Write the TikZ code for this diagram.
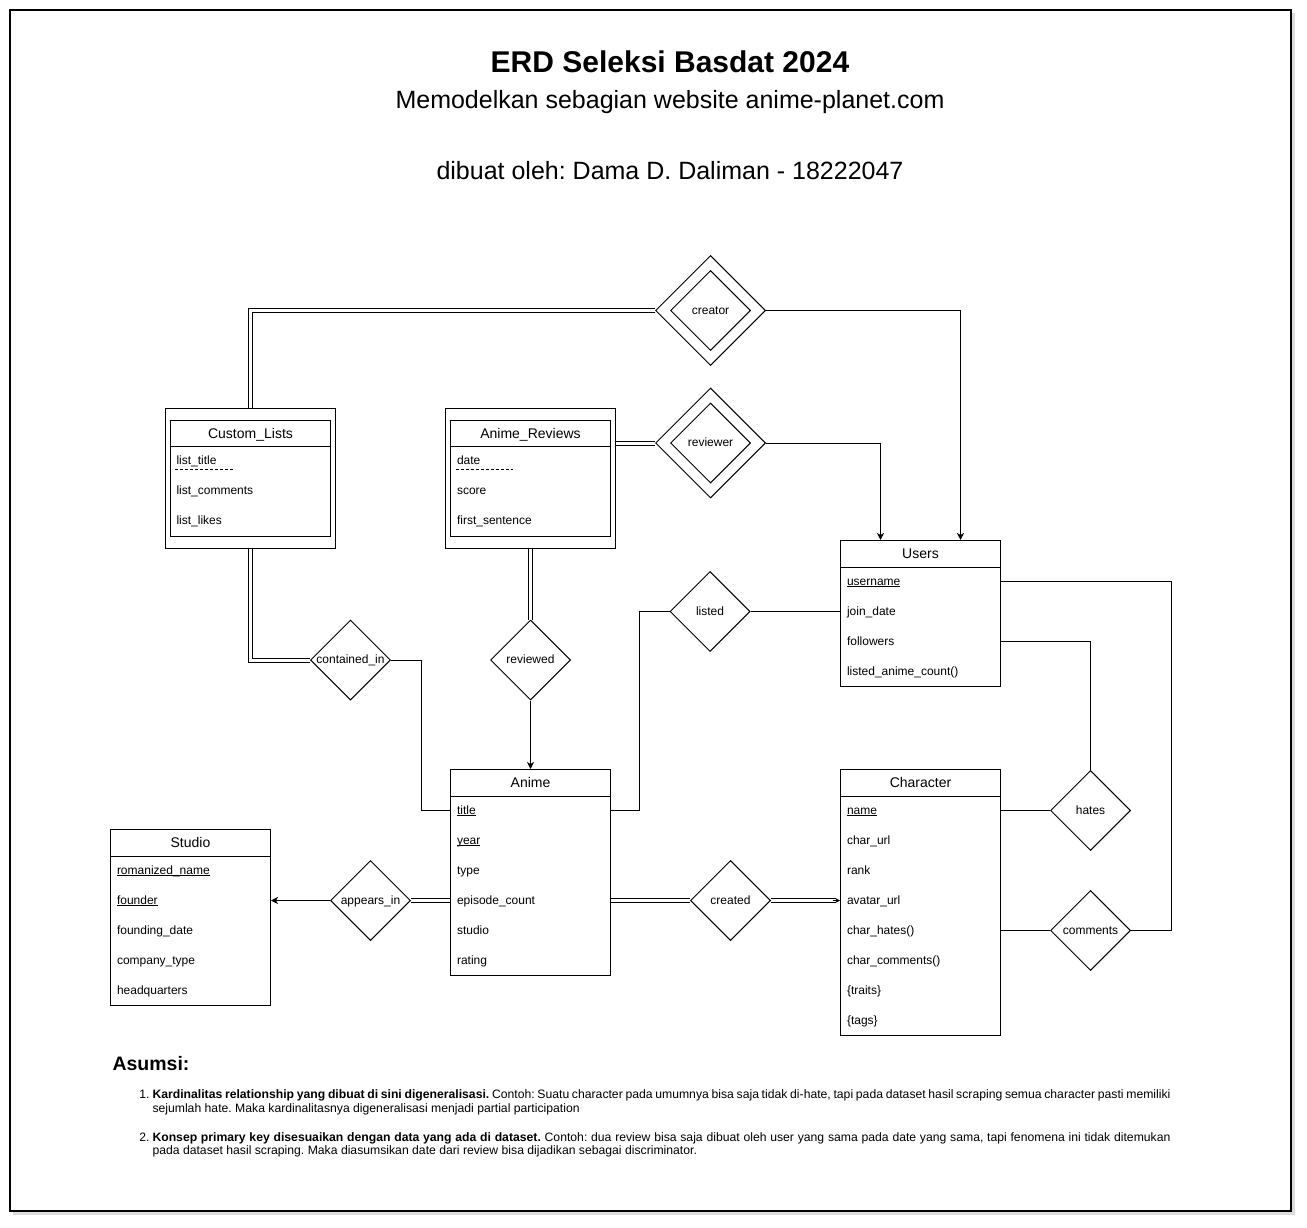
\documentclass[tikz,border=0pt]{standalone}
\usepackage{fontspec}
\setmainfont{Liberation Sans}
\usetikzlibrary{arrows.meta,shapes.geometric,calc}
\frenchspacing
\newcommand{\pkey}[1]{\setbox0=\hbox{#1}\leavevmode\rlap{\rule[-2pt]{\wd0}{0.7pt}}\box0}
\begin{document}
\begin{tikzpicture}[x=1pt,y=-1pt,line width=1pt,
  ehead/.style={minimum width=160pt, minimum height=26pt, inner sep=0pt, text height=10pt, text depth=0pt, font=\fontsize{14}{16}\selectfont},
  ebody/.style={draw, minimum width=160pt, inner sep=0pt, anchor=north},
  weak/.style={draw, minimum width=170pt, minimum height=140pt, inner sep=0pt},
  attr/.style={anchor=west, inner sep=0pt, text height=8.5pt, text depth=1.5pt, font=\fontsize{12}{14}\selectfont},
  rel/.style={diamond, draw, aspect=1, minimum width=80pt, minimum height=80pt, inner sep=0pt, text height=8.5pt, text depth=1.5pt, font=\fontsize{12}{14}\selectfont},
  relo/.style={diamond, draw, aspect=1, minimum width=110pt, minimum height=110pt, inner sep=0pt},
  dbl/.style={double, double distance=3pt},
  arr/.style={-{Stealth[length=7pt,width=7pt,inset=2pt]}},
  pkdash/.style={dash pattern=on 3pt off 2pt, line width=0.8pt},
]
\useasboundingbox (0,0) rectangle (1307,1228);
% frame with shadow
\fill[black!20, opacity=0.7] (13,13) rectangle (1294.5,1214.5);
\draw[fill=white, line width=1.2pt] (10,10) rectangle (1291,1211);

% titles
\node[anchor=base, inner sep=0pt, font=\fontsize{30}{36}\selectfont\bfseries] (title) at (670,72.5) {ERD Seleksi Basdat 2024};
\node[anchor=base, inner sep=0pt, font=\fontsize{25}{30}\selectfont] (subtitle) at (670,108.5) {Memodelkan sebagian website anime-planet.com};
\node[anchor=base, inner sep=0pt, font=\fontsize{25}{30}\selectfont] (author) at (670,179.5) {dibuat oleh: Dama D. Daliman - 18222047};

% Custom_Lists (weak)
\node[weak] (cl-o) at (250,478) {};
\node[ehead] (cl-h) at (250.5,433) {Custom\_Lists};
\node[ebody, minimum height=116pt] (cl-b) at (cl-h.north) {};
\draw (cl-h.south west) -- (cl-h.south east);
\node[attr] (cl-title) at (176,461) {list\_title};
\node[attr] (cl-comm) at (176,491) {list\_comments};
\node[attr] (cl-likes) at (176,521) {list\_likes};
\draw[pkdash] ([xshift=-1pt,yshift=-2.5pt]cl-title.south west) -- ++(58,0);

% Anime_Reviews (weak)
\node[weak] (ar-o) at (530.5,478) {};
\node[ehead] (ar-h) at (530.5,433) {Anime\_Reviews};
\node[ebody, minimum height=116pt] (ar-b) at (ar-h.north) {};
\draw (ar-h.south west) -- (ar-h.south east);
\node[attr] (ar-date) at (456.5,461) {date};
\node[attr] (ar-score) at (456.5,491) {score};
\node[attr] (ar-first) at (456.5,521) {first\_sentence};
\draw[pkdash] ([xshift=-1pt,yshift=-2.5pt]ar-date.south west) -- ++(57,0);

% Users
\node[ehead] (us-h) at (920.5,553.5) {Users};
\node[ebody, minimum height=146pt] (us-b) at (us-h.north) {};
\draw (us-h.south west) -- (us-h.south east);
\node[attr] (us-user) at (846.5,581.5) {\pkey{username}};
\node[attr] (us-join) at (846.5,611.5) {join\_date};
\node[attr] (us-foll) at (846.5,641.5) {followers};
\node[attr] (us-count) at (846.5,671.5) {listed\_anime\_count()};

% Anime
\node[ehead] (an-h) at (530.5,782.5) {Anime};
\node[ebody, minimum height=206pt] (an-b) at (an-h.north) {};
\draw (an-h.south west) -- (an-h.south east);
\node[attr] (an-title) at (456.5,810.5) {\pkey{title}};
\node[attr] (an-year) at (456.5,840.5) {\pkey{year}};
\node[attr] (an-type) at (456.5,870.5) {type};
\node[attr] (an-ep) at (456.5,900.5) {episode\_count};
\node[attr] (an-studio) at (456.5,930.5) {studio};
\node[attr] (an-rating) at (456.5,960.5) {rating};

% Studio
\node[ehead] (st-h) at (190.5,842.5) {Studio};
\node[ebody, minimum height=176pt] (st-b) at (st-h.north) {};
\draw (st-h.south west) -- (st-h.south east);
\node[attr] (st-name) at (116.5,870.5) {\pkey{romanized\_name}};
\node[attr] (st-founder) at (116.5,900.5) {\pkey{founder}};
\node[attr] (st-date) at (116.5,930.5) {founding\_date};
\node[attr] (st-type) at (116.5,960.5) {company\_type};
\node[attr] (st-hq) at (116.5,990.5) {headquarters};

% Character
\node[ehead] (ch-h) at (920.5,782.5) {Character};
\node[ebody, minimum height=266pt] (ch-b) at (ch-h.north) {};
\draw (ch-h.south west) -- (ch-h.south east);
\node[attr] (ch-name) at (846.5,810.5) {\pkey{name}};
\node[attr] (ch-url) at (846.5,840.5) {char\_url};
\node[attr] (ch-rank) at (846.5,870.5) {rank};
\node[attr] (ch-avatar) at (846.5,900.5) {avatar\_url};
\node[attr] (ch-hates) at (846.5,930.5) {char\_hates()};
\node[attr] (ch-comm) at (846.5,960.5) {char\_comments()};
\node[attr] (ch-traits) at (846.5,990.5) {\{traits\}};
\node[attr] (ch-tags) at (846.5,1020.5) {\{tags\}};

% relationships
\node[relo] (creator-o) at (710.5,310.5) {};
\node[rel] (creator) at (710.5,310.5) {creator};
\node[relo] (reviewer-o) at (710.5,443) {};
\node[rel] (reviewer) at (710.5,443) {reviewer};
\node[rel] (listed) at (710,611.5) {listed};
\node[rel] (contained) at (350.5,660) {contained\_in};
\node[rel] (reviewed) at (530.5,660) {reviewed};
\node[rel] (appears) at (370.5,900.5) {appears\_in};
\node[rel] (created) at (730.5,900.5) {created};
\node[rel] (hates) at (1090.5,810.5) {hates};
\node[rel] (comments) at (1090.5,930.5) {comments};

% connectors
\draw[dbl] (creator-o.west) -| (cl-o.north);
\draw[arr] (creator-o.east) -| ([xshift=40pt]us-b.north);
\draw[dbl] (ar-o.east |- reviewer-o.west) -- (reviewer-o.west);
\draw[arr] (reviewer-o.east) -| ([xshift=-40pt]us-b.north);
\draw[dbl] (cl-o.south) |- (contained.west);
\draw (contained.east) -- ++(30,0) |- (an-b.west |- an-title);
\draw[dbl] (ar-o.south) -- (reviewed.north);
\draw[arr] (reviewed.south) -- (an-b.north);
\draw (us-b.west |- us-join) -- (listed.east);
\draw (listed.west) -- ++(-30,0) |- (an-b.east |- an-title);
\draw[arr] (appears.west) -- (st-b.east |- st-founder);
\draw[dbl] (appears.east) -- (an-b.west |- an-ep);
\draw[dbl] (an-b.east |- an-ep) -- (created.west);
\coordinate (ch-avp) at (ch-b.west |- ch-avatar);
\draw[dbl, shorten >=4pt] (created.east) -- (ch-avp);
\draw[-{Stealth[length=5pt,width=5pt]}] ([xshift=-7pt]ch-avp) -- (ch-avp);
\draw (ch-b.east |- ch-name) -- (hates.west);
\draw (hates.north) |- (us-b.east |- us-foll);
\draw (ch-b.east |- ch-hates) -- (comments.west);
\draw (comments.east) -- ++(40,0) |- (us-b.east |- us-user);

% assumptions
\node[anchor=base west, inner sep=0pt, font=\fontsize{19.5}{23}\selectfont\bfseries] (asumsi) at (112,1070) {Asumsi:};
\node[anchor=base west, inner sep=0pt, text width=1018pt, align=justify, font=\fontsize{12.2}{13.5}\selectfont] (item1) at (152,1098.5) {\tolerance=9999\leavevmode\llap{1.\hspace{3pt}}\textbf{Kardinalitas relationship yang dibuat di sini digeneralisasi.} Contoh: Suatu character pada umumnya bisa saja tidak di-hate, tapi pada dataset hasil scraping semua character pasti memiliki\linebreak sejumlah hate. Maka kardinalitasnya digeneralisasi menjadi partial participation};
\node[anchor=base west, inner sep=0pt, text width=1018pt, align=justify, font=\fontsize{12.2}{13.5}\selectfont] (item2) at (152,1141) {\tolerance=9999\leavevmode\llap{2.\hspace{3pt}}\textbf{Konsep primary key disesuaikan dengan data yang ada di dataset.} Contoh: dua review bisa saja dibuat oleh user yang sama pada date yang sama, tapi fenomena ini tidak ditemukan\linebreak pada dataset hasil scraping. Maka diasumsikan date dari review bisa dijadikan sebagai discriminator.};
\end{tikzpicture}
\end{document}
